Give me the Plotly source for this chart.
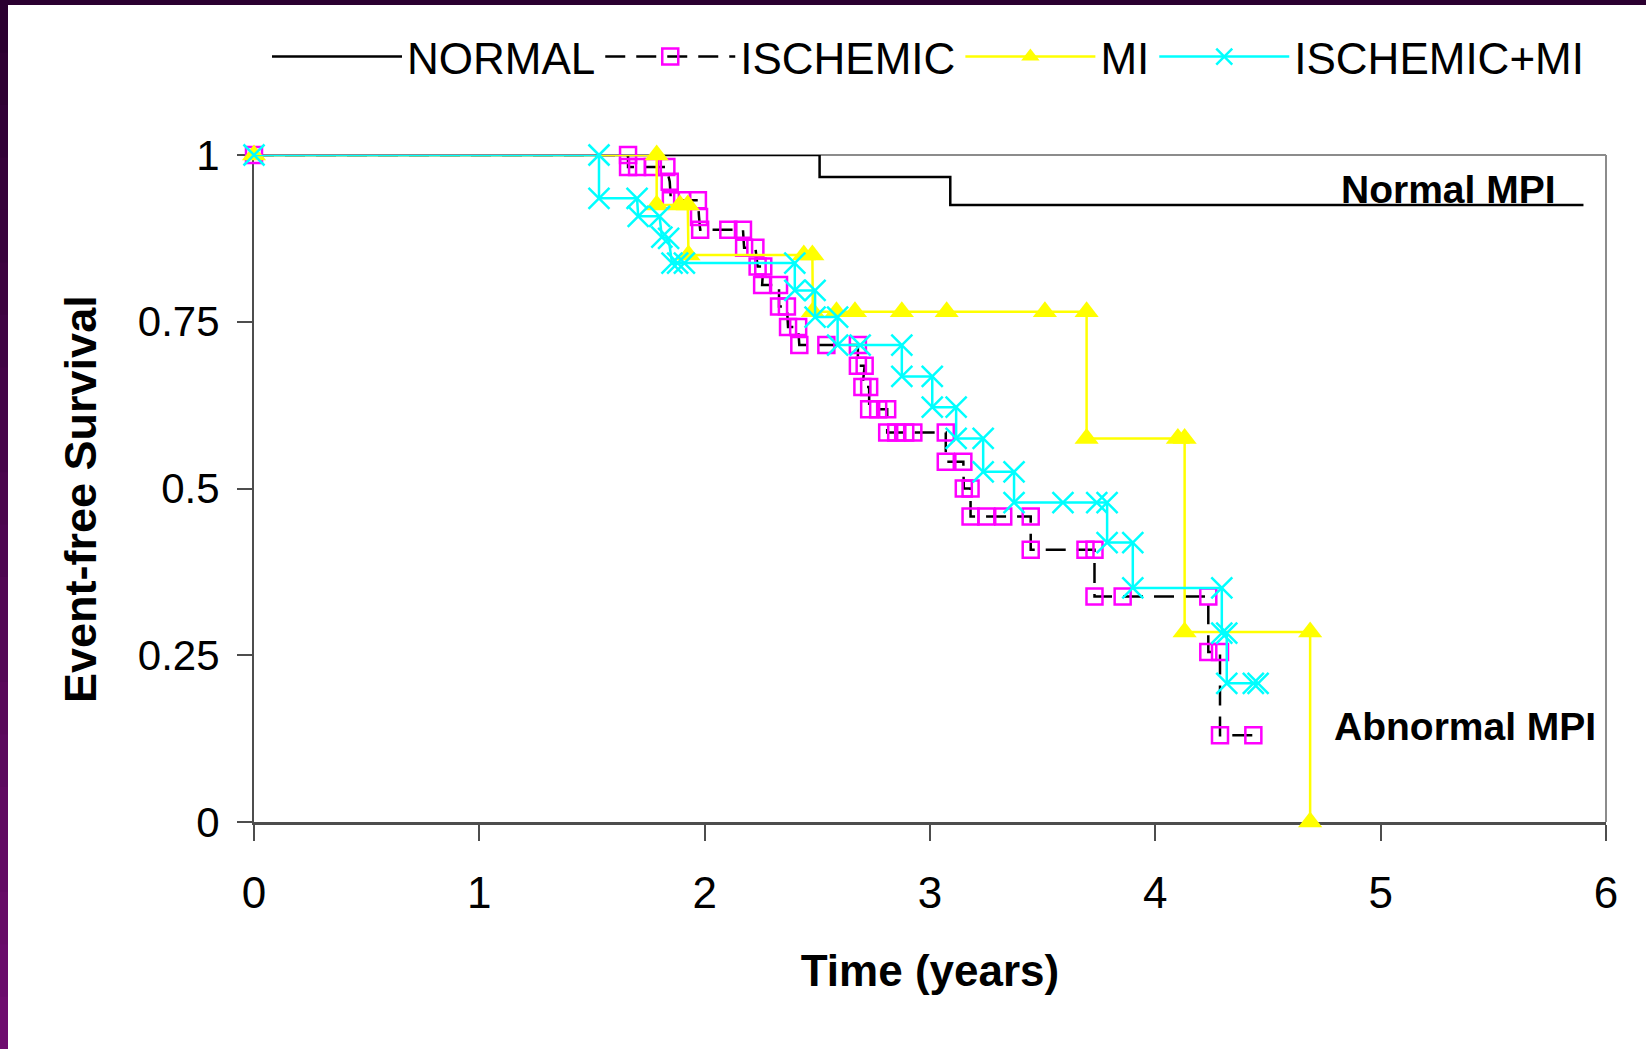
import plotly.graph_objects as go

# ---------------- data ----------------
normal_x = [0, 2.51, 2.51, 3.09, 3.09, 5.9]
normal_y = [1, 1, 0.967, 0.967, 0.925, 0.925]

ischemic_x = [0, 1.66, 1.66, 1.70, 1.77, 1.83, 1.845, 1.85, 1.90, 1.97, 1.975, 1.98,
              2.105, 2.17, 2.175, 2.225, 2.235, 2.26, 2.255, 2.33, 2.33, 2.365, 2.37,
              2.415, 2.42, 2.54, 2.68, 2.68, 2.71, 2.70, 2.73, 2.73, 2.77, 2.81, 2.81,
              2.85, 2.89, 2.926, 3.07, 3.07, 3.148, 3.15, 3.18, 3.18, 3.25, 3.325,
              3.447, 3.447, 3.69, 3.73, 3.73, 3.855, 4.235, 4.235, 4.287, 4.287, 4.435]
ischemic_y = [1, 1, 0.982, 0.982, 0.982, 0.982, 0.96, 0.932, 0.932, 0.932, 0.907, 0.888,
              0.888, 0.888, 0.861, 0.861, 0.833, 0.833, 0.805, 0.805, 0.773, 0.773, 0.742,
              0.742, 0.715, 0.715, 0.715, 0.684, 0.684, 0.652, 0.652, 0.619, 0.619, 0.619, 0.584,
              0.584, 0.584, 0.584, 0.584, 0.54, 0.54, 0.50, 0.50, 0.458, 0.458, 0.458,
              0.458, 0.408, 0.408, 0.408, 0.338, 0.338, 0.338, 0.255, 0.255, 0.13, 0.13]

mi_x = [0, 1.787, 1.787, 1.89, 1.925, 1.928, 2.44, 2.478, 2.48, 2.585, 2.667, 2.875,
        3.074, 3.51, 3.695, 3.695, 4.10, 4.13, 4.13, 4.687, 4.687]
mi_y = [1, 1, 0.925, 0.925, 0.925, 0.85, 0.85, 0.85, 0.765, 0.765, 0.765, 0.765,
        0.765, 0.765, 0.765, 0.575, 0.575, 0.575, 0.285, 0.285, 0]

ismi_x = [0, 1.531, 1.531, 1.70, 1.705, 1.80, 1.81, 1.84, 1.855, 1.88, 1.91, 2.40, 2.40,
          2.49, 2.49, 2.59, 2.59, 2.69, 2.875, 2.875, 3.01, 3.01, 3.116, 3.116, 3.236,
          3.236, 3.373, 3.373, 3.59, 3.74, 3.786, 3.786, 3.90, 3.90, 4.295, 4.295, 4.317,
          4.317, 4.435, 4.456]
ismi_y = [1, 1, 0.935, 0.935, 0.908, 0.908, 0.877, 0.875, 0.838, 0.838, 0.838, 0.838, 0.797,
          0.797, 0.757, 0.757, 0.715, 0.715, 0.715, 0.668, 0.668, 0.622, 0.622, 0.575, 0.575,
          0.525, 0.525, 0.479, 0.479, 0.479, 0.479, 0.419, 0.419, 0.351, 0.351, 0.283, 0.283,
          0.208, 0.208, 0.208]

x_ticks = [0, 1, 2, 3, 4, 5, 6]
x_ticklabels = ["0", "1", "2", "3", "4", "5", "6"]
y_ticks = [0, 0.25, 0.5, 0.75, 1]
y_ticklabels = ["0", "0.25", "0.5", "0.75", "1"]

# ---------------- layout geometry ----------------
W, H = 1646, 1049
ML, MR, MT, MB = 254, 40, 155, 227
PW, PH = W - ML - MR, H - MT - MB


def px(X):
    return (X - ML) / PW


def py(Y):
    return (H - MB - Y) / PH


SANS = "Liberation Sans, Arial, sans-serif"

fig = go.Figure()

fig.add_trace(go.Scatter(
    x=normal_x, y=normal_y, name="NORMAL", mode="lines",
    line=dict(color="black", width=2.5), cliponaxis=False))

fig.add_trace(go.Scatter(
    x=ischemic_x, y=ischemic_y, name="ISCHEMIC", mode="lines+markers",
    line=dict(color="black", width=2.5, dash="20px,11px"),
    marker=dict(symbol="square-open", size=16, color="#ff00ff",
                line=dict(color="#ff00ff", width=2.5)),
    cliponaxis=False))

fig.add_trace(go.Scatter(
    x=mi_x, y=mi_y, name="MI", mode="lines+markers",
    line=dict(color="#ffff00", width=2.5),
    marker=dict(symbol="triangle-up", size=21, color="#ffff00",
                line=dict(width=0)),
    cliponaxis=False))

fig.add_trace(go.Scatter(
    x=ismi_x, y=ismi_y, name="ISCHEMIC+MI", mode="lines+markers",
    line=dict(color="#00ffff", width=2.5),
    marker=dict(symbol="x-thin-open", size=21, color="#00ffff",
                line=dict(color="#00ffff", width=2.5)),
    cliponaxis=False))

shapes = []
# frame: top and right in light grey
shapes.append(dict(type="line", xref="paper", yref="paper", x0=0, x1=1, y0=1, y1=1,
                   line=dict(color="#8c8c8c", width=2), layer="below"))
shapes.append(dict(type="line", xref="paper", yref="paper", x0=1, x1=1, y0=0, y1=1,
                   line=dict(color="#8c8c8c", width=2), layer="below"))
# purple border of the slide (left gradient bar, then top bar)
nseg = 20
c0 = (0x2b, 0x00, 0x30)
c1 = (0x6e, 0x0c, 0x6e)
for i in range(nseg):
    t = i / (nseg - 1)
    col = "rgb(%d,%d,%d)" % tuple(round(a + (b - a) * t) for a, b in zip(c0, c1))
    shapes.append(dict(type="rect", xref="paper", yref="paper",
                       x0=px(0), x1=px(8),
                       y0=py(min(H, H * (i + 1) / nseg + 3)), y1=py(H * i / nseg),
                       fillcolor=col, line=dict(width=0), layer="below"))
shapes.append(dict(type="rect", xref="paper", yref="paper", x0=px(0), x1=px(W), y0=py(5), y1=py(0),
                   fillcolor="#2b0030", line=dict(width=0), layer="below"))

annotations = [
    dict(text="<b>Normal MPI</b>", xref="paper", yref="paper", x=px(1448), y=py(189),
         xanchor="center", yanchor="middle", showarrow=False,
         font=dict(family=SANS, size=39, color="black")),
    dict(text="<b>Abnormal MPI</b>", xref="paper", yref="paper", x=px(1465), y=py(726),
         xanchor="center", yanchor="middle", showarrow=False,
         font=dict(family=SANS, size=39, color="black")),
    dict(text="<b>Event-free Survival</b>", xref="paper", yref="paper", x=px(81), y=py(499),
         xanchor="center", yanchor="middle", showarrow=False, textangle=-90,
         font=dict(family=SANS, size=45, color="black")),
]

fig.update_layout(
    width=W, height=H,
    margin=dict(l=ML, r=MR, t=MT, b=MB, autoexpand=False),
    paper_bgcolor="white", plot_bgcolor="white",
    shapes=shapes, annotations=annotations,
    showlegend=True,
    legend=dict(orientation="h", x=px(267), y=py(57), xanchor="left", yanchor="middle",
                font=dict(family=SANS, size=44, color="black"),
                itemwidth=130, bgcolor="rgba(0,0,0,0)", traceorder="normal"),
    xaxis=dict(range=[0, 6], tickvals=x_ticks, ticktext=x_ticklabels,
               showgrid=False, zeroline=False, showline=True, linecolor="#4d4d4d", linewidth=2.5,
               ticks="outside", ticklen=16, tickwidth=1.5, tickcolor="#4d4d4d",
               ticklabelstandoff=14, layer="below traces",
               tickfont=dict(family=SANS, size=44, color="black"),
               title=dict(text="<b>Time (years)</b>", standoff=40,
                          font=dict(family=SANS, size=44, color="black"))),
    yaxis=dict(range=[0, 1], tickvals=y_ticks, ticktext=y_ticklabels,
               showgrid=False, zeroline=False, showline=True, linecolor="#4d4d4d", linewidth=2,
               ticks="outside", ticklen=15, tickwidth=1.5, tickcolor="#4d4d4d",
               ticklabelstandoff=9, layer="below traces",
               tickfont=dict(family=SANS, size=42, color="black")),
)

fig.write_html("out.html", config={"displayModeBar": False},
               post_script="document.body.style.margin='0';")
